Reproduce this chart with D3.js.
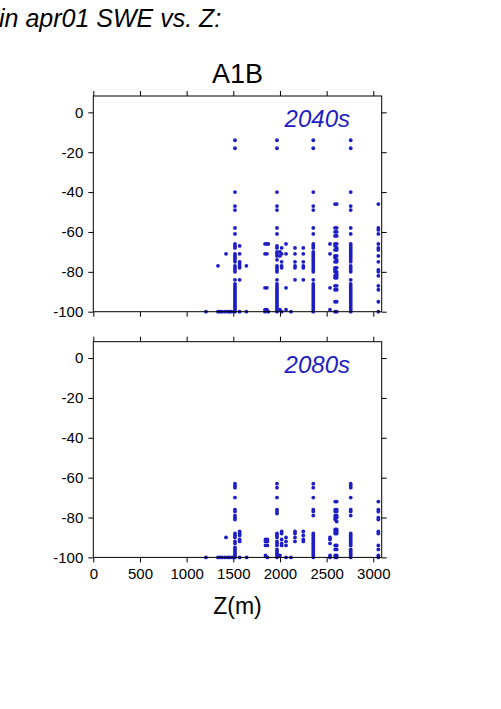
<!DOCTYPE html>
<html>
<head>
<meta charset="utf-8">
<script src="https://cdn.jsdelivr.net/npm/d3@7"></script>
<style>
body { margin: 0; background: #fff; }
svg { display: block; font-family: "Liberation Sans", Arial, sans-serif; }
</style>
</head>
<body>
<script>
// elevation columns (m) and the SWE change values (%) at each one
var cols2040 = [
  [1207, [-100]],
  [1336, [-77, -100]],
  [1360, [-100]],
  [1380, [-100]],
  [1410, [-100]],
  [1422, [-71]],
  [1440, [-100]],
  [1460, [-100]],
  [1480, [-100]],
  [1518, [-14, -18, -40, -47, -49, -58, -61, -66, -67, -68, -71, -72, -73, -74, -75, -77, -78, -79, -80, -84,
          -86, -87, -88, -89, -90, -91, -92, -93, -94, -95, -96, -97, -98, -99, -100]],
  [1568, [-67, -71, -75, -76, -77, -78, -84, -100]],
  [1640, [-77, -100]],
  [1840, [-66, -71, -88, -99, -100]],
  [1860, [-66, -71, -88, -99]],
  [1875, [-66, -100]],
  [1968, [-14, -18, -40, -47, -49, -58, -61, -67, -68, -70, -71, -72, -74, -77, -78, -79, -80, -84,
          -86, -87, -88, -89, -90, -91, -92, -93, -94, -95, -96, -97, -98, -99, -100]],
  [2000, [-70, -72, -99]],
  [2018, [-68, -71, -75, -77, -78, -100]],
  [2065, [-66, -71, -88, -99]],
  [2118, [-100]],
  [2161, [-68, -71, -75, -77, -78, -84]],
  [2250, [-68, -71, -75, -77, -78, -84]],
  [2357, [-14, -18, -40, -47, -49, -58, -61, -66, -67, -68, -70, -71, -72, -73, -74, -75, -76, -77, -78, -79, -80, -84,
          -86, -87, -88, -89, -90, -91, -92, -93, -94, -95, -96, -97, -98, -99, -100]],
  [2536, [-66, -71, -88, -99]],
  [2590, [-46, -58, -60, -62, -66, -67, -69, -72, -73, -75, -78, -79, -80, -82, -83, -87, -89, -95, -100]],
  [2608, [-46, -58, -60, -62, -66, -68, -69, -72, -74, -75, -78, -80, -81, -82, -83, -87, -89, -95, -100]],
  [2758, [-14, -18, -40, -47, -49, -58, -61, -66, -67, -68, -69, -70, -71, -72, -73, -74, -75, -77, -78, -79, -80, -84,
          -86, -87, -88, -89, -90, -91, -92, -93, -94, -95, -96, -97, -98, -99, -100]],
  [3054, [-46, -58, -59, -61, -66, -68, -69, -72, -75, -79, -80, -82, -87, -89, -95, -100]]
];

var cols2080 = [
  [1207, [-100]],
  [1336, [-100]],
  [1360, [-100]],
  [1380, [-100]],
  [1410, [-100]],
  [1422, [-90]],
  [1440, [-100]],
  [1460, [-100]],
  [1490, [-100]],
  [1518, [-63, -64, -65, -70, -76, -77, -79, -80, -81, -88, -89, -90, -92, -93, -95, -96, -97, -98, -99, -100]],
  [1568, [-87, -88, -89, -91, -92, -100]],
  [1643, [-100]],
  [1845, [-91, -92, -94, -99]],
  [1865, [-91, -92, -94, -100]],
  [1968, [-63, -65, -70, -76, -77, -78, -88, -89, -90, -92, -93, -94, -96, -97, -98, -99, -100]],
  [2000, [-99]],
  [2018, [-87, -88, -91, -93, -94]],
  [2065, [-90, -92, -94, -100]],
  [2118, [-100]],
  [2161, [-87, -88, -90, -92]],
  [2250, [-87, -89, -91, -92]],
  [2357, [-63, -65, -70, -76, -77, -79, -88, -89, -90, -91, -92, -93, -94, -95, -96, -97, -98, -99, -100]],
  [2536, [-90, -91, -93, -99, -100]],
  [2592, [-72, -76, -77, -79, -80, -81, -86, -87, -88, -94, -96, -99, -100]],
  [2608, [-72, -76, -77, -79, -80, -82, -86, -87, -88, -94, -96, -99, -100]],
  [2758, [-63, -64, -65, -70, -76, -77, -79, -88, -89, -90, -91, -92, -93, -94, -96, -97, -98, -99, -100]],
  [3054, [-72, -76, -77, -80, -81, -87, -88, -94, -96, -99, -100]]
];

var xTicks = [0, 500, 1000, 1500, 2000, 2500, 3000];
var yTicks = [0, -20, -40, -60, -80, -100];
var panelLabels = ["2040s", "2080s"];

var width = 501, height = 709;
var left = 93.3, right = 381.7;
var panelTops = [96, 341.7];
var panelH = 215.7;
var dotColor = "#1e1ec4";

var svg = d3.select("body").append("svg")
  .attr("width", width)
  .attr("height", height);

svg.append("text")
  .attr("x", -1).attr("y", 27)
  .attr("font-size", 25).attr("font-style", "italic")
  .text("in apr01 SWE vs. Z:");

svg.append("text")
  .attr("x", (left + right) / 2).attr("y", 83)
  .attr("text-anchor", "middle")
  .attr("font-size", 27)
  .text("A1B");

var x = d3.scaleLinear().domain([0, 3090]).range([left, right]);

[cols2040, cols2080].forEach(function(cols, i) {
  var top = panelTops[i];
  var y = d3.scaleLinear().domain([-100, 8.2]).range([top + panelH, top]);
  var g = svg.append("g");

  var pts = [];
  cols.forEach(function(c) {
    c[1].forEach(function(v) { pts.push([c[0], v]); });
  });

  g.selectAll("circle")
    .data(pts)
    .enter()
    .append("circle")
    .attr("cx", d => x(d[0]))
    .attr("cy", d => y(d[1]))
    .attr("r", 1.9)
    .style("fill", dotColor);

  g.append("rect")
    .attr("x", left).attr("y", top)
    .attr("width", right - left).attr("height", panelH)
    .attr("fill", "none").attr("stroke", "#000").attr("stroke-width", 1);

  var yAxis = d3.axisLeft(y).tickValues(yTicks).tickSize(5).tickPadding(5)
    .tickFormat(d => String(d));
  g.append("g").attr("transform", "translate(" + left + ",0)").call(yAxis);

  g.append("g").attr("transform", "translate(" + right + ",0)")
    .call(d3.axisRight(y).tickValues(yTicks).tickSize(5).tickFormat(""));

  g.append("g").attr("transform", "translate(0," + top + ")")
    .call(d3.axisTop(x).tickValues(xTicks).tickSize(5).tickFormat(""));

  var xAxis = d3.axisBottom(x).tickValues(xTicks).tickSize(5).tickPadding(6)
    .tickFormat(i == 0 ? "" : d => String(d));
  g.append("g").attr("transform", "translate(0," + (top + panelH) + ")").call(xAxis);

  g.selectAll(".domain").remove();
  g.selectAll(".tick text").attr("font-size", 15).attr("font-family", "Liberation Sans, Arial, sans-serif").attr("fill", "#000");
  g.selectAll(".tick line").attr("stroke", "#000");

  g.append("text")
    .attr("x", 350).attr("y", top + 31)
    .attr("text-anchor", "end")
    .attr("font-size", 24).attr("font-style", "italic")
    .attr("fill", dotColor)
    .text(panelLabels[i]);
});

svg.append("text")
  .attr("x", (left + right) / 2).attr("y", 614)
  .attr("text-anchor", "middle")
  .attr("font-size", 23)
  .text("Z(m)");
</script>
</body>
</html>
